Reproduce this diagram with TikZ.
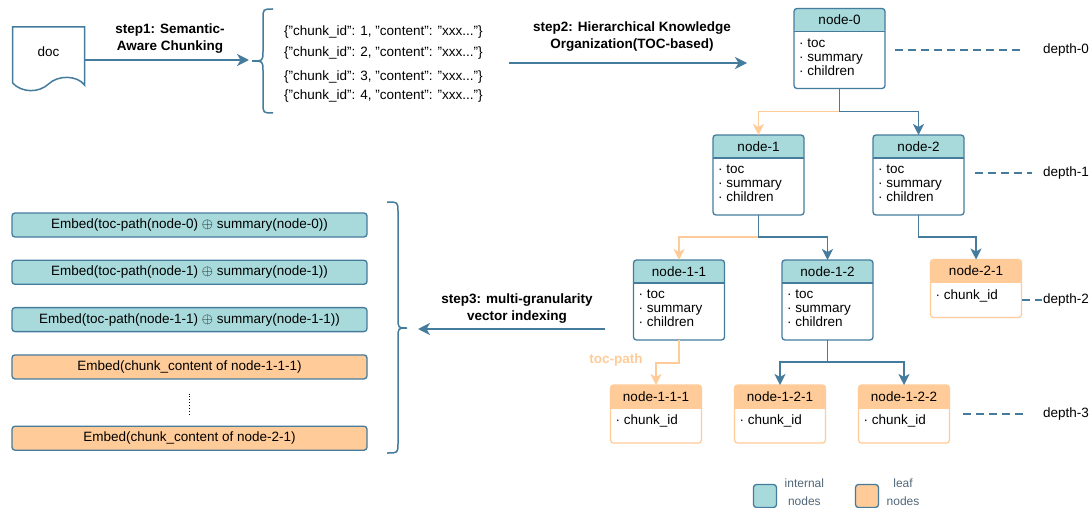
\documentclass[tikz,border=0pt]{standalone}
\usepackage{fontspec}
\setmainfont{Liberation Sans}
\usetikzlibrary{positioning}
\usetikzlibrary{arrows.meta}

\definecolor{tealfill}{HTML}{A8DADC}
\definecolor{linkblue}{HTML}{457B9D}
\definecolor{leaffill}{HTML}{FFCC99}
\definecolor{legendtxt}{HTML}{51687A}

\newcommand{\tocfields}{· toc\\· summary\\· children}
\newcommand{\leaffields}{· chunk\_id}

\begin{document}
\begin{tikzpicture}[
                x = 1pt, y = -1pt,
                font = \fontsize{13.5}{14}\selectfont,
                box/.style = {
                    draw = linkblue,
                    line width = 1.3pt,
                    rounded corners = 3pt,
                    fill = white,
                    minimum width = 91pt,
                    minimum height = #1,
                    inner sep = 0pt,
                    outer sep = 0pt
                },
                box/.default = 80pt,
                header/.style 2 args = {
                    path picture = {
                        \fill[#1] (path picture bounding box.north west) rectangle ([yshift=-23pt]path picture bounding box.north east);
                        \draw[#2, line width=1.3pt] ([yshift=-23pt]path picture bounding box.north west) -- ([yshift=-23pt]path picture bounding box.north east);
                    }
                },
                internal/.style = {box, header = {tealfill}{linkblue}},
                leaf/.style = {box = 58pt, draw = leaffill, header = {leaffill}{leaffill}},
                headtext/.style = {anchor = center, yshift = -11.5pt},
                fields/.style = {anchor = north west, align = left, inner sep = 0pt, xshift = 5pt, yshift = -30pt},
                link/.style = {draw = linkblue, line width = 1.8pt, -{Stealth[length=11pt, width=11pt, inset=3pt]}},
                toclink/.style = {link, draw = leaffill},
                stepline/.style = {draw = linkblue, line width = 1.9pt, -{Stealth[length=12pt, width=12pt, inset=3.5pt]}},
                steplabel/.style = {font = \bfseries\fontsize{13.5}{17}\selectfont, align = center},
                bracket/.style = {draw = linkblue, line width = 1.5pt},
                depthline/.style = {draw = linkblue, line width = 1.3pt, dash pattern = on 8pt off 5pt},
                depthlabel/.style = {anchor = west, inner sep = 0pt},
                embed/.style = {draw = linkblue, line width = 1.3pt, rounded corners = 3pt, fill = #1, minimum width = 355pt, minimum height = 24pt, inner sep = 0pt},
                embed/.default = tealfill,
                chunk/.style = {anchor = west, inner sep = 0pt},
                legendbox/.style = {draw = linkblue, line width = 1.3pt, rounded corners = 3pt, fill = #1, minimum size = 23pt, inner sep = 0pt},
                legendtext/.style = {font = \fontsize{12}{18}\selectfont, text = legendtxt, align = center}
            ]

            \path[use as bounding box, fill = white] (0,0) rectangle (1091,508);

            % doc and step1
            \node[minimum width = 72pt, minimum height = 66pt, inner sep = 0pt, label={[anchor=center, yshift=-25pt]north:doc}] (doc) at (48.5,60) {};
            \draw[bracket] (12.5,83) -- (12.5,27) -- (84.5,27) -- (84.5,85)
                .. controls (77,75) and (58,75) .. (48.5,84)
                .. controls (39,93) and (22,93) .. (12.5,83);
            \coordinate (s1-end) at (249,60);
            \draw[stepline] (doc.east) -- (s1-end);
            \node[steplabel] (s1) at (170,38.5) {step1: Semantic-\\Aware Chunking};

            % chunks
            \draw[bracket] (273,9) .. controls (263,9) .. (263,19) -- (263,51) .. controls (263,61) .. (252,61)
                .. controls (263,61) .. (263,71) -- (263,103) .. controls (263,113) .. (273,113);
            \foreach \i/\y in {1/32, 2/53, 3/77, 4/96}
                \node[chunk] (c\i) at (284,\y) {\{"chunk\_id": \i, "content": "xxx..."\}};

            % step2
            \coordinate (s2-start) at (509,63);
            \coordinate (s2-end) at (747,63);
            \draw[stepline] (s2-start) -- (s2-end);
            \node[steplabel] (s2) at (632,36.5) {step2: Hierarchical Knowledge\\Organization(TOC-based)};

            % tree
            \node[internal, label={[headtext]north:node-0}, label={[fields]north west:\tocfields}] (n0) at (839.5,48.5) {};
            \node[internal, label={[headtext]north:node-1}, label={[fields]north west:\tocfields}] (n1) at (758.5,175) {};
            \node[internal, label={[headtext]north:node-2}, label={[fields]north west:\tocfields}] (n2) at (918.5,175) {};
            \node[internal, label={[headtext]north:node-1-1}, label={[fields]north west:\tocfields}] (n11) at (679,300) {};
            \node[internal, label={[headtext]north:node-1-2}, label={[fields]north west:\tocfields}] (n12) at (827.5,300) {};
            \node[leaf, label={[headtext]north:node-2-1}, label={[fields]north west:\leaffields}] (n21) at (976,288.5) {};
            \node[leaf, label={[headtext]north:node-1-1-1}, label={[fields]north west:\leaffields}] (n111) at (656,414) {};
            \node[leaf, label={[headtext]north:node-1-2-1}, label={[fields]north west:\leaffields}, right=33pt of n111] (n121) {};
            \node[leaf, label={[headtext]north:node-1-2-2}, label={[fields]north west:\leaffields}, right=33pt of n121] (n122) {};

            \draw[toclink] (n0.south) -- ++(0,23) -| (n1.north);
            \draw[link] (n0.south) -- ++(0,23) -| (n2.north);
            \draw[toclink] (n1.south) -- ++(0,22) -| (n11.north);
            \draw[link] (n1.south) -- ++(0,22) -| (n12.north);
            \draw[link] (n2.south) -- ++(0,22) -| (n21.north);
            \draw[toclink] (n11.south) -- ++(0,23) -| (n111.north);
            \draw[link] (n12.south) -- ++(0,22) -| (n121.north);
            \draw[link] (n12.south) -- ++(0,22) -| (n122.north);

            \node[font = \bfseries\fontsize{13.5}{14}\selectfont, text = leaffill] (tp) at (616,360) {toc-path};

            % depth marks
            \node[depthlabel] (d0) at (1043,50) {depth-0};
            \node[depthlabel] (d1) at (1043,173) {depth-1};
            \node[depthlabel] (d2) at (1043,300) {depth-2};
            \node[depthlabel] (d3) at (1043,414) {depth-3};
            \draw[depthline] ([xshift=-148pt]d0.west) -- ([xshift=-21pt]d0.west);
            \draw[depthline] ([xshift=-68pt]d1.west) -- ([xshift=-11pt]d1.west);
            \draw[depthline] ([xshift=-21pt]d2.west) -- ([xshift=-1pt]d2.west);
            \draw[depthline] ([xshift=-80pt]d3.west) -- ([xshift=-16pt]d3.west);

            % step3
            \coordinate (s3-start) at (605,329);
            \coordinate (s3-end) at (418,329);
            \draw[stepline] (s3-start) -- (s3-end);
            \node[steplabel] (s3) at (517,308.5) {step3: multi-granularity\\vector indexing};

            % embeddings
            \node[embed] (e1) at (189.5,225) {Embed(toc-path(node-0) $\oplus$ summary(node-0))};
            \node[embed, below=22pt of e1] (e2) {Embed(toc-path(node-1) $\oplus$ summary(node-1))};
            \node[embed, below=22pt of e2] (e3) {Embed(toc-path(node-1-1) $\oplus$ summary(node-1-1))};
            \node[embed=leaffill, below=22pt of e3] (e4) {Embed(chunk\_content of node-1-1-1)};
            \node[embed=leaffill, below=46pt of e4] (e5) {Embed(chunk\_content of node-2-1)};
            \draw[dotted, line width = 0.9pt] ([yshift=-14pt]e4.south) -- ([yshift=11pt]e5.north);

            \draw[bracket] (387,202) .. controls (398,202) .. (398,212) -- (398,318) .. controls (398,328) .. (407,328)
                .. controls (398,328) .. (398,338) -- (398,443) .. controls (398,453) .. (387,453);

            % legend
            \node[legendbox = tealfill] (lg-int) at (765,496) {};
            \node[legendtext, right = 4pt of lg-int, yshift = 4pt] (lg-int-txt) {internal\\nodes};
            \node[legendbox = leaffill] (lg-leaf) at (867,496) {};
            \node[legendtext, right = 4pt of lg-leaf, yshift = 4pt] (lg-leaf-txt) {leaf\\nodes};

         \end{tikzpicture}
\end{document}
